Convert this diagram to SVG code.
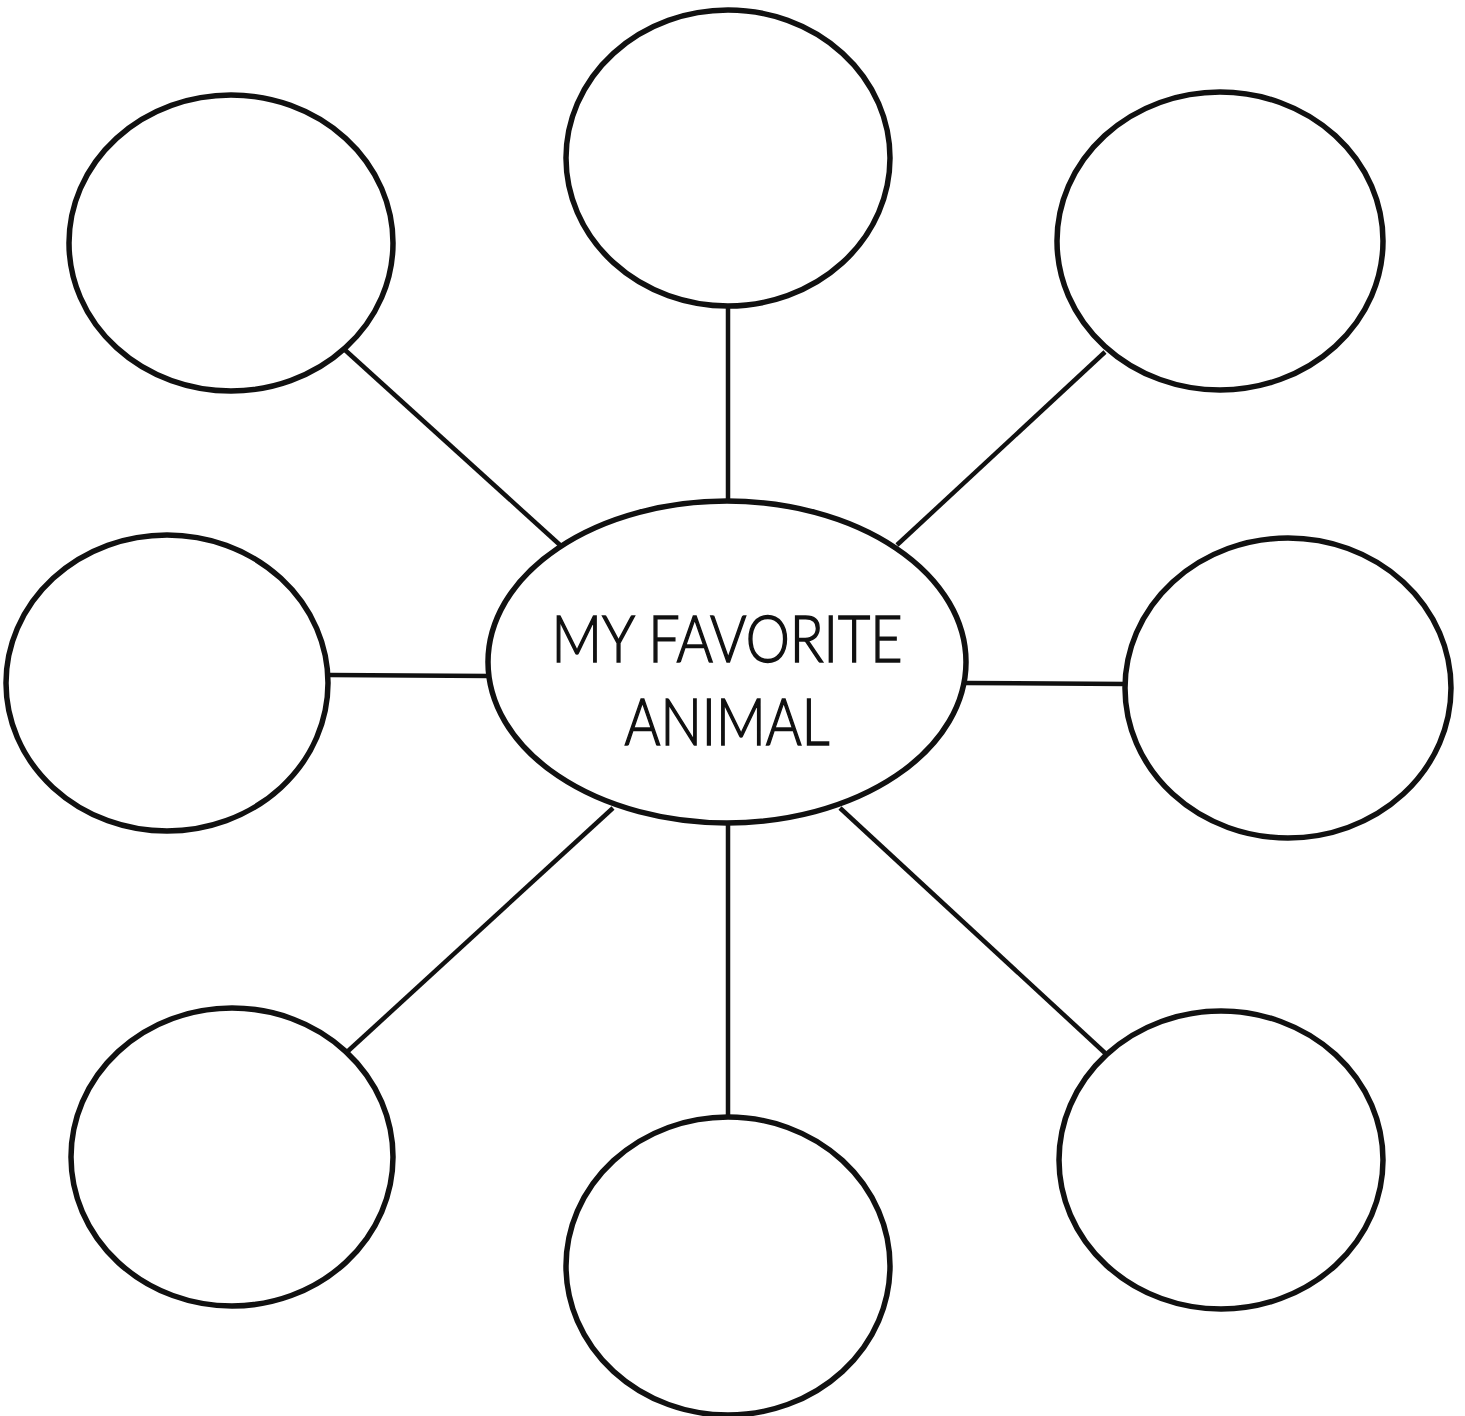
<svg xmlns="http://www.w3.org/2000/svg" width="1465" height="1416" viewBox="0 0 1465 1416">
<style>
.node{fill:#fff;stroke:#111;stroke-width:5.5}
.conn line{stroke:#111;stroke-width:4.5}
.lbl{font-family:"Lato","Liberation Sans",Arial,sans-serif;font-weight:300;font-size:66px;fill:#111;stroke:#111;stroke-width:1.6;text-anchor:middle}
</style>
<rect width="1465" height="1416" fill="#fff"/>
<g class="conn">
<line x1="345" y1="350" x2="560" y2="545"/>
<line x1="728" y1="306" x2="728" y2="502"/>
<line x1="1105" y1="352" x2="897" y2="545"/>
<line x1="330" y1="675" x2="490" y2="676"/>
<line x1="966" y1="683" x2="1126" y2="684"/>
<line x1="613" y1="808" x2="347" y2="1052"/>
<line x1="728" y1="822" x2="728" y2="1120"/>
<line x1="840" y1="808" x2="1105" y2="1053"/>
</g>
<g id="n-tl"><ellipse class="node" cx="231" cy="243" rx="162" ry="148"/></g>
<g id="n-t"><ellipse class="node" cx="728" cy="158" rx="162" ry="148"/></g>
<g id="n-tr"><ellipse class="node" cx="1220" cy="241" rx="163" ry="149"/></g>
<g id="n-ml"><ellipse class="node" cx="167" cy="683" rx="161" ry="148"/></g>
<g id="n-mr"><ellipse class="node" cx="1288" cy="688" rx="163" ry="150"/></g>
<g id="n-bl"><ellipse class="node" cx="232" cy="1157" rx="161" ry="149"/></g>
<g id="n-b"><ellipse class="node" cx="728" cy="1266" rx="162" ry="149"/></g>
<g id="n-br"><ellipse class="node" cx="1221" cy="1160" rx="162" ry="149"/></g>
<g id="n-center">
<ellipse class="node" cx="727" cy="662" rx="239" ry="161"/>
<text class="lbl" x="727" y="662" textLength="351" lengthAdjust="spacingAndGlyphs">MY FAVORITE</text>
<text class="lbl" x="727" y="745" textLength="205" lengthAdjust="spacingAndGlyphs">ANIMAL</text>
</g>
</svg>
